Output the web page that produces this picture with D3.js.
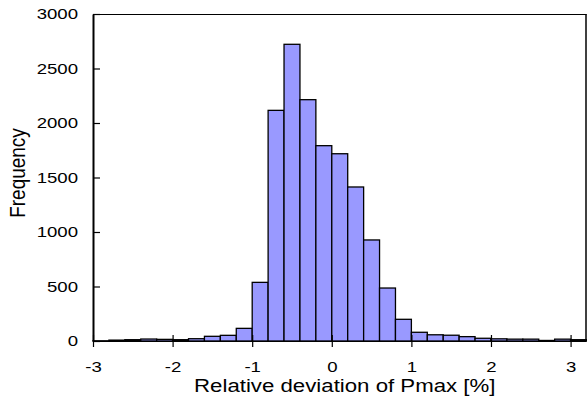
<!DOCTYPE html>
<meta charset="utf-8">
<html>
<head>
<style>
  body { margin: 0; background: #fff; }
  svg text { font-family: "Liberation Sans", Arial, sans-serif; fill: #000; }
  .stretch { transform-box: fill-box; transform-origin: center; }
</style>
</head>
<body>
<script src="https://d3js.org/d3.v7.min.js"></script>
<script>
// histogram bins (left edge, width 0.2) and counts
var binStarts = [-3.0, -2.8, -2.6, -2.4, -2.2, -2.0, -1.8, -1.6, -1.4, -1.2,
                 -1.0, -0.8, -0.6, -0.4, -0.2, 0.0, 0.2, 0.4, 0.6, 0.8,
                 1.0, 1.2, 1.4, 1.6, 1.8, 2.0, 2.2, 2.4, 2.6, 2.8, 3.0];
var counts = [2, 8, 12, 18, 15, 12, 21, 43, 52, 116,
              538, 2116, 2722, 2214, 1792, 1718, 1413, 927, 486, 199,
              80, 57, 53, 40, 25, 20, 17, 17, 5, 17, 12];
var binWidth = 0.2;
var xTicks = [-3, -2, -1, 0, 1, 2, 3];
var yTicks = [0, 500, 1000, 1500, 2000, 2500, 3000];

var W = 587, H = 407;
var plotLeft = 93, plotRight = 586.5, plotTop = 14, plotBottom = 341;

var svg = d3.select("body").append("svg")
    .attr("width", W)
    .attr("height", H);

var x = d3.scaleLinear().domain([-3, 3.2]).range([plotLeft, plotRight]);
var y = d3.scaleLinear().domain([0, 3000]).range([plotBottom, plotTop]);

// bars
svg.append("g").selectAll("rect")
    .data(counts)
    .enter()
    .append("rect")
    .attr("x", function(d, i) { return x(binStarts[i]); })
    .attr("width", function(d, i) { return x(binStarts[i] + binWidth) - x(binStarts[i]); })
    .attr("y", function(d) { return y(d); })
    .attr("height", function(d) { return plotBottom - y(d); })
    .style("fill", "#9999ff")
    .style("stroke", "#000")
    .style("stroke-width", 1.3);

// frame: top and right
svg.append("line").attr("x1", plotLeft).attr("x2", plotRight).attr("y1", plotTop + 0.5).attr("y2", plotTop + 0.5)
    .style("stroke", "#000").style("stroke-width", 1.2);
svg.append("line").attr("x1", plotRight - 0.5).attr("x2", plotRight - 0.5).attr("y1", plotTop).attr("y2", plotBottom)
    .style("stroke", "#000").style("stroke-width", 1.5);

// x axis, ticks cross the axis line
var xAxis = d3.axisBottom(x)
    .tickValues(xTicks)
    .tickSizeInner(6)
    .tickSizeOuter(0)
    .tickPadding(14)
    .tickFormat(function(d) { return String(d); });

var gx = svg.append("g")
    .attr("transform", "translate(0," + plotBottom + ")")
    .call(xAxis);
gx.select(".domain").attr("d", "M" + plotLeft + ",0.5H" + plotRight).style("stroke-width", 1.2);
gx.selectAll(".tick line").attr("y1", -6).attr("y2", 6).style("stroke-width", 1.2);
gx.selectAll(".tick text")
    .attr("class", "stretch")
    .style("font-size", "15.5px")
    .style("font-family", "Liberation Sans, Arial, sans-serif")
    .style("transform", "scaleX(1.2)");

// y axis, ticks inward
var yAxis = d3.axisLeft(y)
    .tickValues(yTicks)
    .tickSizeInner(0)
    .tickSizeOuter(0)
    .tickPadding(15)
    .tickFormat(function(d) { return String(d); });

var gy = svg.append("g")
    .attr("transform", "translate(" + plotLeft + ",0)")
    .call(yAxis);
gy.select(".domain").style("stroke-width", 2);
gy.selectAll(".tick line").attr("x1", 0).attr("x2", 7).style("stroke-width", 1.2);
gy.selectAll(".tick text")
    .attr("class", "stretch")
    .style("font-size", "15.5px")
    .style("font-family", "Liberation Sans, Arial, sans-serif")
    .style("transform", "scaleX(1.2)")
    .style("transform-origin", "right center");

// axis titles
svg.append("text")
    .attr("class", "stretch")
    .attr("x", (plotLeft + plotRight) / 2 + 5)
    .attr("y", 392)
    .attr("text-anchor", "middle")
    .style("font-size", "17.5px")
    .style("transform", "scaleX(1.27)")
    .text("Relative deviation of Pmax [%]");

svg.append("g")
    .attr("transform", "translate(24,173) rotate(-90)")
    .append("text")
    .attr("class", "stretch")
    .attr("text-anchor", "middle")
    .style("font-size", "19px")
    .style("transform", "scaleY(1.2)")
    .text("Frequency");
</script>
</body>
</html>
